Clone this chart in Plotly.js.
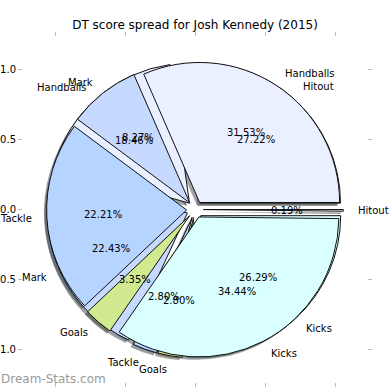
<!DOCTYPE html>
<html><head><meta charset="utf-8">
<script src="https://cdn.plot.ly/plotly-3.0.1.min.js"></script>
<style>html,body{margin:0;padding:0;background:#fff}#chart{width:390px;height:390px}</style>
</head><body><div id="chart"></div>
<script>
// ---------- data ----------
const chartTitle = 'DT score spread for Josh Kennedy (2015)';
const watermark = 'Dream-Stats.com';
// first pie (drawn underneath)
const labelsA = ['Hitout', 'Handballs', 'Mark', 'Tackle', 'Goals', 'Kicks'];
const valuesA = [27.22, 18.46, 22.43, 2.80, 2.80, 26.29];
// second pie (drawn on top)
const labelsB = ['Handballs', 'Mark', 'Tackle', 'Goals', 'Kicks', 'Hitout'];
const valuesB = [31.53, 8.27, 22.21, 3.35, 34.44, 0.19];
// axis ticks
const tickValues = [-1, -0.5, 0, 0.5, 1];
const tickLabels = ['\u22121.0', '\u22120.5', '0.0', '0.5', '1.0'];

// ---------- styles ----------
const palette = {
  Handballs: '#eaf0ff', Mark: '#c6d9ff', Tackle: '#b5d4ff',
  Goals: '#d1e98f', Kicks: '#d9ffff', Hitout: '#f4f4f4'
};
const explodeAmount = 0.06;
const FONT = 'DejaVu Sans, Liberation Sans, sans-serif';

// ---------- geometry ----------
const W = 390, H = 390;
const M = {l: 23, r: 23, t: 37, b: 8};
const pw = W - M.l - M.r, ph = H - M.t - M.b;
const R = 140; // pixels per data unit (pie radius = 1)
const xr = [-pw / 2 / R, pw / 2 / R];
const yr = [-ph / 2 / R, ph / 2 / R];

function domainFor(dx, dy, pull) {
  const rx = R * (1 + pull);
  const cx = (dx - xr[0]) / (xr[1] - xr[0]);
  const cy = (dy - yr[0]) / (yr[1] - yr[0]);
  return {x: [cx - rx / pw, cx + rx / pw], y: [cy - rx / ph, cy + rx / ph]};
}
function shade(hex) {
  const r = parseInt(hex.slice(1, 3), 16), g = parseInt(hex.slice(3, 5), 16), b = parseInt(hex.slice(5, 7), 16);
  return `rgba(${Math.round(r * 0.3)},${Math.round(g * 0.3)},${Math.round(b * 0.3)},0.5)`;
}

function pieTraces(labels, values) {
  const total = values.reduce((a, b) => a + b, 0);
  // plotly (counterclockwise): first slice ends at `rotation` (clockwise from 12 o'clock);
  // make the first slice start at 3 o'clock like matplotlib.
  const rot = 90 - 360 * values[0] / total;
  const pull = labels.map(() => explodeAmount);
  const cols = labels.map(l => palette[l]);
  const base = {
    type: 'pie', labels: labels, values: values, sort: false,
    direction: 'counterclockwise', rotation: rot, pull: pull,
    textinfo: 'none', hoverinfo: 'skip', showlegend: false
  };
  const shadow = Object.assign({}, base, {
    marker: {colors: cols.map(shade), line: {width: 0}},
    domain: domainFor(-0.02, -0.02, explodeAmount)
  });
  const main = Object.assign({}, base, {
    marker: {colors: cols, line: {color: '#111111', width: 1}},
    domain: domainFor(0, 0, explodeAmount)
  });
  return [shadow, main];
}

function pieAnnotations(labels, values) {
  const total = values.reduce((a, b) => a + b, 0);
  const out = [];
  let start = 0;
  values.forEach((v, i) => {
    const frac = v / total;
    const mid = (start + frac / 2) * 2 * Math.PI;
    start += frac;
    const ox = explodeAmount * Math.cos(mid), oy = explodeAmount * Math.sin(mid);
    const px = ox + 0.6 * Math.cos(mid), py = oy + 0.6 * Math.sin(mid);
    const lx = ox + 1.1 * Math.cos(mid), ly = oy + 1.1 * Math.sin(mid);
    out.push({xref: 'x', yref: 'y', x: px, y: py, text: (frac * 100).toFixed(2) + '%',
      showarrow: false, xanchor: 'center', yanchor: 'middle', borderpad: 0,
      font: {family: FONT, size: 10, color: '#000'}});
    out.push({xref: 'x', yref: 'y', x: lx, y: ly, text: labels[i],
      showarrow: false, xanchor: lx > 0 ? 'left' : 'right', yanchor: 'middle', borderpad: 0,
      font: {family: FONT, size: 10, color: '#000'}});
  });
  return out;
}

const [shadowA, pieA] = pieTraces(labelsA, valuesA);
const [shadowB, pieB] = pieTraces(labelsB, valuesB);

const axisBase = {
  showgrid: false, zeroline: false, showline: false, mirror: 'ticks',
  ticks: 'outside', ticklen: 4, tickwidth: 1, tickcolor: '#bdbdbd',
  tickvals: tickValues, ticktext: tickLabels,
  tickfont: {family: FONT, size: 10, color: '#000'}, fixedrange: true
};

const data = [
  {type: 'scatter', x: [0], y: [0], mode: 'markers', marker: {opacity: 0},
   hoverinfo: 'skip', showlegend: false},
  shadowA, shadowB, pieA, pieB
];

const annotations = pieAnnotations(labelsA, valuesA).concat(pieAnnotations(labelsB, valuesB));
annotations.push({xref: 'paper', yref: 'paper', x: -M.l / pw, y: 3 / ph,
  xanchor: 'left', yanchor: 'middle', showarrow: false, text: watermark, borderpad: 0,
  font: {family: FONT, size: 12, color: '#9a9a9a'}});

const layout = {
  width: W, height: H, margin: M, autosize: false,
  paper_bgcolor: '#fff', plot_bgcolor: '#fff',
  title: {text: chartTitle, x: 0.5, xanchor: 'center', xref: 'container',
    y: 1 - 25 / H, yanchor: 'middle', yref: 'container',
    font: {family: FONT, size: 12, color: '#000'}},
  xaxis: Object.assign({}, axisBase, {range: xr}),
  yaxis: Object.assign({}, axisBase, {range: yr}),
  showlegend: false,
  annotations: annotations
};

Plotly.newPlot('chart', data, layout, {displayModeBar: false, staticPlot: true});
</script>
</body></html>
